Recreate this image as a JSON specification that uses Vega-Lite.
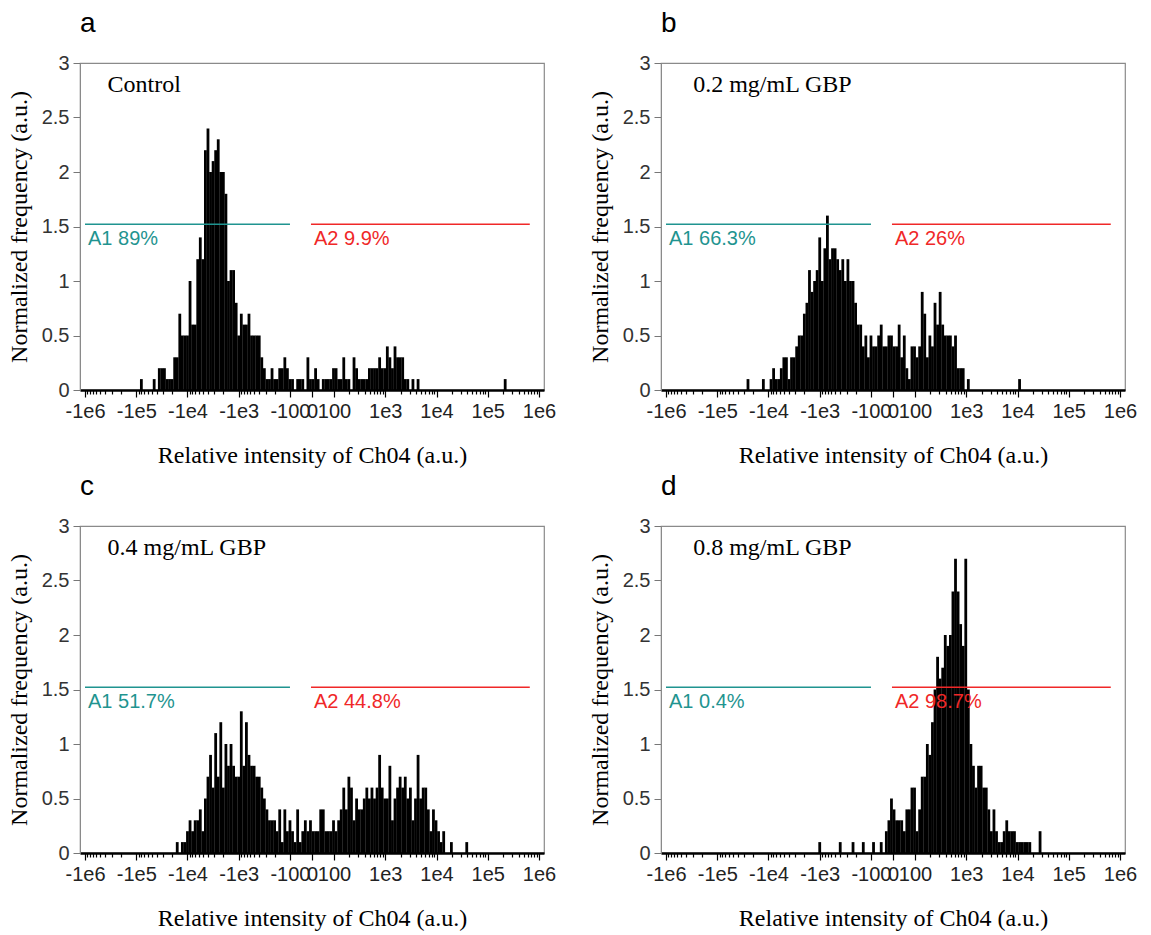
{
"$schema": "https://vega.github.io/schema/vega-lite/v6.json",
"padding": {"left": 6, "top": 9, "right": 5, "bottom": 5},
"config": {
  "view": {"stroke": "#8a8a8a", "strokeWidth": 1.2},
  "axis": {"grid": false, "labelFont": "Liberation Sans", "labelFontSize": 20, "labelColor": "#222", "titleFont": "Liberation Serif", "titleFontSize": 24, "titleFontWeight": "normal", "titleColor": "black"},
  "axisX": {"labelOverlap": false},
  "header": {"labelFont": "Liberation Sans", "labelFontSize": 28, "labelColor": "black"}
},
"data": {"values": [
{"p":"a","k":"h","x":1.10,"y":0.1},{"p":"a","k":"h","x":1.35,"y":0.1},{"p":"a","k":"h","x":1.45,"y":0.2},{"p":"a","k":"h","x":1.50,"y":0.2},{"p":"a","k":"h","x":1.55,"y":0.2},{"p":"a","k":"h","x":1.60,"y":0.1},{"p":"a","k":"h","x":1.65,"y":0.1},{"p":"a","k":"h","x":1.70,"y":0.1},{"p":"a","k":"h","x":1.75,"y":0.3},{"p":"a","k":"h","x":1.80,"y":0.3},
{"p":"a","k":"h","x":1.85,"y":0.7},{"p":"a","k":"h","x":1.90,"y":0.5},{"p":"a","k":"h","x":1.95,"y":0.5},{"p":"a","k":"h","x":2.00,"y":0.5},{"p":"a","k":"h","x":2.05,"y":1.0},{"p":"a","k":"h","x":2.10,"y":0.6},{"p":"a","k":"h","x":2.15,"y":0.6},{"p":"a","k":"h","x":2.20,"y":1.2},{"p":"a","k":"h","x":2.25,"y":1.4},{"p":"a","k":"h","x":2.30,"y":1.2},
{"p":"a","k":"h","x":2.35,"y":2.2},{"p":"a","k":"h","x":2.40,"y":2.4},{"p":"a","k":"h","x":2.45,"y":2.0},{"p":"a","k":"h","x":2.50,"y":2.1},{"p":"a","k":"h","x":2.55,"y":2.2},{"p":"a","k":"h","x":2.60,"y":2.3},{"p":"a","k":"h","x":2.65,"y":2.0},{"p":"a","k":"h","x":2.70,"y":2.0},{"p":"a","k":"h","x":2.75,"y":1.8},{"p":"a","k":"h","x":2.80,"y":1.0},
{"p":"a","k":"h","x":2.85,"y":1.1},{"p":"a","k":"h","x":2.90,"y":1.1},{"p":"a","k":"h","x":2.95,"y":0.8},{"p":"a","k":"h","x":3.00,"y":0.5},{"p":"a","k":"h","x":3.05,"y":0.7},{"p":"a","k":"h","x":3.10,"y":0.6},{"p":"a","k":"h","x":3.15,"y":0.6},{"p":"a","k":"h","x":3.20,"y":0.7},{"p":"a","k":"h","x":3.25,"y":0.5},{"p":"a","k":"h","x":3.30,"y":0.5},
{"p":"a","k":"h","x":3.35,"y":0.5},{"p":"a","k":"h","x":3.40,"y":0.5},{"p":"a","k":"h","x":3.45,"y":0.3},{"p":"a","k":"h","x":3.50,"y":0.2},{"p":"a","k":"h","x":3.55,"y":0.1},{"p":"a","k":"h","x":3.60,"y":0.1},{"p":"a","k":"h","x":3.65,"y":0.2},{"p":"a","k":"h","x":3.70,"y":0.1},{"p":"a","k":"h","x":3.75,"y":0.1},{"p":"a","k":"h","x":3.80,"y":0.2},
{"p":"a","k":"h","x":3.85,"y":0.2},{"p":"a","k":"h","x":3.90,"y":0.3},{"p":"a","k":"h","x":3.95,"y":0.2},{"p":"a","k":"h","x":4.00,"y":0.1},{"p":"a","k":"h","x":4.05,"y":0.1},{"p":"a","k":"h","x":4.15,"y":0.1},{"p":"a","k":"h","x":4.20,"y":0.1},{"p":"a","k":"h","x":4.25,"y":0.1},{"p":"a","k":"h","x":4.35,"y":0.3},{"p":"a","k":"h","x":4.40,"y":0.1},
{"p":"a","k":"h","x":4.45,"y":0.1},{"p":"a","k":"h","x":4.50,"y":0.2},{"p":"a","k":"h","x":4.55,"y":0.1},{"p":"a","k":"h","x":4.65,"y":0.1},{"p":"a","k":"h","x":4.70,"y":0.1},{"p":"a","k":"h","x":4.75,"y":0.1},{"p":"a","k":"h","x":4.80,"y":0.1},{"p":"a","k":"h","x":4.85,"y":0.2},{"p":"a","k":"h","x":4.90,"y":0.2},{"p":"a","k":"h","x":4.95,"y":0.1},
{"p":"a","k":"h","x":5.00,"y":0.1},{"p":"a","k":"h","x":5.05,"y":0.3},{"p":"a","k":"h","x":5.10,"y":0.1},{"p":"a","k":"h","x":5.15,"y":0.1},{"p":"a","k":"h","x":5.25,"y":0.3},{"p":"a","k":"h","x":5.30,"y":0.2},{"p":"a","k":"h","x":5.35,"y":0.1},{"p":"a","k":"h","x":5.40,"y":0.1},{"p":"a","k":"h","x":5.45,"y":0.1},{"p":"a","k":"h","x":5.50,"y":0.1},
{"p":"a","k":"h","x":5.55,"y":0.2},{"p":"a","k":"h","x":5.60,"y":0.2},{"p":"a","k":"h","x":5.65,"y":0.2},{"p":"a","k":"h","x":5.70,"y":0.2},{"p":"a","k":"h","x":5.75,"y":0.3},{"p":"a","k":"h","x":5.80,"y":0.2},{"p":"a","k":"h","x":5.85,"y":0.2},{"p":"a","k":"h","x":5.90,"y":0.4},{"p":"a","k":"h","x":5.95,"y":0.3},{"p":"a","k":"h","x":6.00,"y":0.2},
{"p":"a","k":"h","x":6.05,"y":0.4},{"p":"a","k":"h","x":6.10,"y":0.3},{"p":"a","k":"h","x":6.15,"y":0.3},{"p":"a","k":"h","x":6.20,"y":0.3},{"p":"a","k":"h","x":6.25,"y":0.1},{"p":"a","k":"h","x":6.30,"y":0.1},{"p":"a","k":"h","x":6.40,"y":0.1},{"p":"a","k":"h","x":6.50,"y":0.1},{"p":"a","k":"h","x":8.20,"y":0.1},

{"p":"b","k":"h","x":1.60,"y":0.1},{"p":"b","k":"h","x":1.90,"y":0.1},{"p":"b","k":"h","x":2.05,"y":0.1},{"p":"b","k":"h","x":2.10,"y":0.2},{"p":"b","k":"h","x":2.15,"y":0.1},{"p":"b","k":"h","x":2.20,"y":0.1},{"p":"b","k":"h","x":2.25,"y":0.2},{"p":"b","k":"h","x":2.30,"y":0.3},{"p":"b","k":"h","x":2.35,"y":0.3},{"p":"b","k":"h","x":2.40,"y":0.1},
{"p":"b","k":"h","x":2.45,"y":0.3},{"p":"b","k":"h","x":2.50,"y":0.3},{"p":"b","k":"h","x":2.55,"y":0.4},{"p":"b","k":"h","x":2.60,"y":0.5},{"p":"b","k":"h","x":2.65,"y":0.5},{"p":"b","k":"h","x":2.70,"y":0.7},{"p":"b","k":"h","x":2.75,"y":0.8},{"p":"b","k":"h","x":2.80,"y":1.1},{"p":"b","k":"h","x":2.85,"y":0.9},{"p":"b","k":"h","x":2.90,"y":1.0},
{"p":"b","k":"h","x":2.95,"y":1.1},{"p":"b","k":"h","x":3.00,"y":1.4},{"p":"b","k":"h","x":3.05,"y":1.0},{"p":"b","k":"h","x":3.10,"y":1.3},{"p":"b","k":"h","x":3.15,"y":1.6},{"p":"b","k":"h","x":3.20,"y":1.2},{"p":"b","k":"h","x":3.25,"y":1.3},{"p":"b","k":"h","x":3.30,"y":1.3},{"p":"b","k":"h","x":3.35,"y":1.2},{"p":"b","k":"h","x":3.40,"y":1.1},
{"p":"b","k":"h","x":3.45,"y":1.2},{"p":"b","k":"h","x":3.50,"y":1.0},{"p":"b","k":"h","x":3.55,"y":1.2},{"p":"b","k":"h","x":3.60,"y":1.0},{"p":"b","k":"h","x":3.65,"y":1.0},{"p":"b","k":"h","x":3.70,"y":0.8},{"p":"b","k":"h","x":3.75,"y":0.6},{"p":"b","k":"h","x":3.80,"y":0.6},{"p":"b","k":"h","x":3.85,"y":0.4},{"p":"b","k":"h","x":3.90,"y":0.5},
{"p":"b","k":"h","x":3.95,"y":0.3},{"p":"b","k":"h","x":4.00,"y":0.5},{"p":"b","k":"h","x":4.05,"y":0.4},{"p":"b","k":"h","x":4.10,"y":0.4},{"p":"b","k":"h","x":4.15,"y":0.5},{"p":"b","k":"h","x":4.20,"y":0.6},{"p":"b","k":"h","x":4.25,"y":0.4},{"p":"b","k":"h","x":4.30,"y":0.4},{"p":"b","k":"h","x":4.35,"y":0.5},{"p":"b","k":"h","x":4.40,"y":0.5},
{"p":"b","k":"h","x":4.45,"y":0.4},{"p":"b","k":"h","x":4.50,"y":0.4},{"p":"b","k":"h","x":4.55,"y":0.6},{"p":"b","k":"h","x":4.60,"y":0.3},{"p":"b","k":"h","x":4.65,"y":0.5},{"p":"b","k":"h","x":4.70,"y":0.2},{"p":"b","k":"h","x":4.75,"y":0.1},{"p":"b","k":"h","x":4.80,"y":0.4},{"p":"b","k":"h","x":4.85,"y":0.4},{"p":"b","k":"h","x":4.90,"y":0.3},
{"p":"b","k":"h","x":4.95,"y":0.4},{"p":"b","k":"h","x":5.00,"y":0.9},{"p":"b","k":"h","x":5.05,"y":0.7},{"p":"b","k":"h","x":5.10,"y":0.3},{"p":"b","k":"h","x":5.15,"y":0.5},{"p":"b","k":"h","x":5.20,"y":0.4},{"p":"b","k":"h","x":5.25,"y":0.8},{"p":"b","k":"h","x":5.30,"y":0.6},{"p":"b","k":"h","x":5.35,"y":0.9},{"p":"b","k":"h","x":5.40,"y":0.6},
{"p":"b","k":"h","x":5.45,"y":0.5},{"p":"b","k":"h","x":5.50,"y":0.5},{"p":"b","k":"h","x":5.55,"y":0.5},{"p":"b","k":"h","x":5.60,"y":0.4},{"p":"b","k":"h","x":5.65,"y":0.5},{"p":"b","k":"h","x":5.70,"y":0.2},{"p":"b","k":"h","x":5.75,"y":0.2},{"p":"b","k":"h","x":5.80,"y":0.2},{"p":"b","k":"h","x":5.90,"y":0.1},{"p":"b","k":"h","x":6.90,"y":0.1},

{"p":"c","k":"h","x":1.80,"y":0.1},{"p":"c","k":"h","x":1.90,"y":0.1},{"p":"c","k":"h","x":1.95,"y":0.1},{"p":"c","k":"h","x":2.00,"y":0.2},{"p":"c","k":"h","x":2.05,"y":0.3},{"p":"c","k":"h","x":2.10,"y":0.2},{"p":"c","k":"h","x":2.15,"y":0.3},{"p":"c","k":"h","x":2.20,"y":0.3},{"p":"c","k":"h","x":2.25,"y":0.4},{"p":"c","k":"h","x":2.30,"y":0.2},
{"p":"c","k":"h","x":2.35,"y":0.5},{"p":"c","k":"h","x":2.40,"y":0.7},{"p":"c","k":"h","x":2.45,"y":0.9},{"p":"c","k":"h","x":2.50,"y":0.6},{"p":"c","k":"h","x":2.55,"y":1.1},{"p":"c","k":"h","x":2.60,"y":0.7},{"p":"c","k":"h","x":2.65,"y":1.2},{"p":"c","k":"h","x":2.70,"y":0.6},{"p":"c","k":"h","x":2.75,"y":1.0},{"p":"c","k":"h","x":2.80,"y":0.8},
{"p":"c","k":"h","x":2.85,"y":1.0},{"p":"c","k":"h","x":2.90,"y":0.8},{"p":"c","k":"h","x":2.95,"y":0.7},{"p":"c","k":"h","x":3.00,"y":0.7},{"p":"c","k":"h","x":3.05,"y":1.3},{"p":"c","k":"h","x":3.10,"y":0.8},{"p":"c","k":"h","x":3.15,"y":1.2},{"p":"c","k":"h","x":3.20,"y":0.9},{"p":"c","k":"h","x":3.25,"y":0.8},{"p":"c","k":"h","x":3.30,"y":0.8},
{"p":"c","k":"h","x":3.35,"y":0.7},{"p":"c","k":"h","x":3.40,"y":0.7},{"p":"c","k":"h","x":3.45,"y":0.6},{"p":"c","k":"h","x":3.50,"y":0.5},{"p":"c","k":"h","x":3.55,"y":0.4},{"p":"c","k":"h","x":3.60,"y":0.3},{"p":"c","k":"h","x":3.65,"y":0.3},{"p":"c","k":"h","x":3.70,"y":0.3},{"p":"c","k":"h","x":3.75,"y":0.2},{"p":"c","k":"h","x":3.80,"y":0.4},
{"p":"c","k":"h","x":3.85,"y":0.1},{"p":"c","k":"h","x":3.90,"y":0.4},{"p":"c","k":"h","x":3.95,"y":0.2},{"p":"c","k":"h","x":4.00,"y":0.3},{"p":"c","k":"h","x":4.05,"y":0.2},{"p":"c","k":"h","x":4.10,"y":0.1},{"p":"c","k":"h","x":4.15,"y":0.4},{"p":"c","k":"h","x":4.20,"y":0.1},{"p":"c","k":"h","x":4.25,"y":0.2},{"p":"c","k":"h","x":4.30,"y":0.3},
{"p":"c","k":"h","x":4.35,"y":0.2},{"p":"c","k":"h","x":4.40,"y":0.3},{"p":"c","k":"h","x":4.45,"y":0.2},{"p":"c","k":"h","x":4.50,"y":0.2},{"p":"c","k":"h","x":4.55,"y":0.2},{"p":"c","k":"h","x":4.60,"y":0.4},{"p":"c","k":"h","x":4.65,"y":0.4},{"p":"c","k":"h","x":4.70,"y":0.2},{"p":"c","k":"h","x":4.75,"y":0.2},{"p":"c","k":"h","x":4.80,"y":0.2},
{"p":"c","k":"h","x":4.85,"y":0.3},{"p":"c","k":"h","x":4.90,"y":0.2},{"p":"c","k":"h","x":4.95,"y":0.3},{"p":"c","k":"h","x":5.00,"y":0.4},{"p":"c","k":"h","x":5.05,"y":0.6},{"p":"c","k":"h","x":5.10,"y":0.4},{"p":"c","k":"h","x":5.15,"y":0.7},{"p":"c","k":"h","x":5.20,"y":0.6},{"p":"c","k":"h","x":5.25,"y":0.3},{"p":"c","k":"h","x":5.30,"y":0.5},
{"p":"c","k":"h","x":5.35,"y":0.4},{"p":"c","k":"h","x":5.40,"y":0.4},{"p":"c","k":"h","x":5.45,"y":0.5},{"p":"c","k":"h","x":5.50,"y":0.6},{"p":"c","k":"h","x":5.55,"y":0.5},{"p":"c","k":"h","x":5.60,"y":0.6},{"p":"c","k":"h","x":5.65,"y":0.5},{"p":"c","k":"h","x":5.70,"y":0.6},{"p":"c","k":"h","x":5.75,"y":0.9},{"p":"c","k":"h","x":5.80,"y":0.6},
{"p":"c","k":"h","x":5.85,"y":0.5},{"p":"c","k":"h","x":5.90,"y":0.5},{"p":"c","k":"h","x":5.95,"y":0.8},{"p":"c","k":"h","x":6.00,"y":0.3},{"p":"c","k":"h","x":6.05,"y":0.5},{"p":"c","k":"h","x":6.10,"y":0.6},{"p":"c","k":"h","x":6.15,"y":0.7},{"p":"c","k":"h","x":6.20,"y":0.6},{"p":"c","k":"h","x":6.25,"y":0.7},{"p":"c","k":"h","x":6.30,"y":0.5},
{"p":"c","k":"h","x":6.35,"y":0.6},{"p":"c","k":"h","x":6.40,"y":0.3},{"p":"c","k":"h","x":6.45,"y":0.5},{"p":"c","k":"h","x":6.50,"y":0.9},{"p":"c","k":"h","x":6.55,"y":0.5},{"p":"c","k":"h","x":6.60,"y":0.6},{"p":"c","k":"h","x":6.65,"y":0.6},{"p":"c","k":"h","x":6.70,"y":0.4},{"p":"c","k":"h","x":6.75,"y":0.2},{"p":"c","k":"h","x":6.80,"y":0.4},
{"p":"c","k":"h","x":6.85,"y":0.3},{"p":"c","k":"h","x":6.90,"y":0.2},{"p":"c","k":"h","x":6.95,"y":0.1},{"p":"c","k":"h","x":7.00,"y":0.2},{"p":"c","k":"h","x":7.15,"y":0.1},{"p":"c","k":"h","x":7.45,"y":0.1},

{"p":"d","k":"h","x":3.00,"y":0.1},{"p":"d","k":"h","x":3.40,"y":0.1},{"p":"d","k":"h","x":3.65,"y":0.1},{"p":"d","k":"h","x":3.85,"y":0.1},{"p":"d","k":"h","x":4.05,"y":0.1},{"p":"d","k":"h","x":4.20,"y":0.1},{"p":"d","k":"h","x":4.30,"y":0.2},{"p":"d","k":"h","x":4.35,"y":0.3},{"p":"d","k":"h","x":4.40,"y":0.5},{"p":"d","k":"h","x":4.45,"y":0.4},
{"p":"d","k":"h","x":4.50,"y":0.3},{"p":"d","k":"h","x":4.55,"y":0.3},{"p":"d","k":"h","x":4.60,"y":0.3},{"p":"d","k":"h","x":4.65,"y":0.2},{"p":"d","k":"h","x":4.70,"y":0.4},{"p":"d","k":"h","x":4.75,"y":0.4},{"p":"d","k":"h","x":4.80,"y":0.6},{"p":"d","k":"h","x":4.85,"y":0.6},{"p":"d","k":"h","x":4.90,"y":0.2},{"p":"d","k":"h","x":4.95,"y":0.4},
{"p":"d","k":"h","x":5.00,"y":0.7},{"p":"d","k":"h","x":5.05,"y":0.7},{"p":"d","k":"h","x":5.10,"y":1.0},{"p":"d","k":"h","x":5.15,"y":0.9},{"p":"d","k":"h","x":5.20,"y":1.2},{"p":"d","k":"h","x":5.25,"y":1.5},{"p":"d","k":"h","x":5.30,"y":1.8},{"p":"d","k":"h","x":5.35,"y":1.6},{"p":"d","k":"h","x":5.40,"y":1.7},{"p":"d","k":"h","x":5.45,"y":2.0},
{"p":"d","k":"h","x":5.50,"y":1.9},{"p":"d","k":"h","x":5.55,"y":2.0},{"p":"d","k":"h","x":5.60,"y":2.4},{"p":"d","k":"h","x":5.65,"y":2.7},{"p":"d","k":"h","x":5.70,"y":2.4},{"p":"d","k":"h","x":5.75,"y":2.1},{"p":"d","k":"h","x":5.80,"y":1.9},{"p":"d","k":"h","x":5.85,"y":2.7},{"p":"d","k":"h","x":5.90,"y":1.5},{"p":"d","k":"h","x":5.95,"y":1.0},
{"p":"d","k":"h","x":6.00,"y":0.8},{"p":"d","k":"h","x":6.05,"y":0.6},{"p":"d","k":"h","x":6.10,"y":0.8},{"p":"d","k":"h","x":6.15,"y":0.8},{"p":"d","k":"h","x":6.20,"y":0.6},{"p":"d","k":"h","x":6.25,"y":0.6},{"p":"d","k":"h","x":6.30,"y":0.4},{"p":"d","k":"h","x":6.35,"y":0.2},{"p":"d","k":"h","x":6.40,"y":0.4},{"p":"d","k":"h","x":6.45,"y":0.2},
{"p":"d","k":"h","x":6.50,"y":0.1},{"p":"d","k":"h","x":6.55,"y":0.1},{"p":"d","k":"h","x":6.60,"y":0.2},{"p":"d","k":"h","x":6.65,"y":0.3},{"p":"d","k":"h","x":6.70,"y":0.2},{"p":"d","k":"h","x":6.75,"y":0.2},{"p":"d","k":"h","x":6.80,"y":0.2},{"p":"d","k":"h","x":6.85,"y":0.1},{"p":"d","k":"h","x":6.90,"y":0.1},{"p":"d","k":"h","x":6.95,"y":0.1},
{"p":"d","k":"h","x":7.00,"y":0.1},{"p":"d","k":"h","x":7.05,"y":0.1},{"p":"d","k":"h","x":7.10,"y":0.1},{"p":"d","k":"h","x":7.30,"y":0.2},

{"p":"a","k":"g","g":"A1","x":0,"x2":4.0,"y":1.52,"t":"A1 89%"},
{"p":"a","k":"g","g":"A2","x":4.41,"x2":8.68,"y":1.52,"t":"A2 9.9%"},
{"p":"b","k":"g","g":"A1","x":0,"x2":4.0,"y":1.52,"t":"A1 66.3%"},
{"p":"b","k":"g","g":"A2","x":4.41,"x2":8.68,"y":1.52,"t":"A2 26%"},
{"p":"c","k":"g","g":"A1","x":0,"x2":4.0,"y":1.52,"t":"A1 51.7%"},
{"p":"c","k":"g","g":"A2","x":4.41,"x2":8.68,"y":1.52,"t":"A2 44.8%"},
{"p":"d","k":"g","g":"A1","x":0,"x2":4.0,"y":1.52,"t":"A1 0.4%"},
{"p":"d","k":"g","g":"A2","x":4.41,"x2":8.68,"y":1.52,"t":"A2 98.7%"},

{"p":"a","k":"n","x":0.44,"y":2.8,"t":"Control"},
{"p":"b","k":"n","x":0.53,"y":2.8,"t":"0.2 mg/mL GBP"},
{"p":"c","k":"n","x":0.44,"y":2.8,"t":"0.4 mg/mL GBP"},
{"p":"d","k":"n","x":0.53,"y":2.8,"t":"0.8 mg/mL GBP"}
]},
"facet": {"field": "p", "type": "nominal", "header": {"title": null, "labelAnchor": "start", "labelAngle": 0, "labelPadding": -13, "labelOrient": "top"}},
"columns": 2,
"spacing": {"column": 30, "row": 4},
"resolve": {"axis": {"x": "independent", "y": "independent"}},
"spec": {
  "width": 464,
  "height": 327,
  "layer": [
    {
      "transform": [{"filter": "datum.k == 'h'"}],
      "mark": {"type": "bar", "color": "black", "width": 2.8},
      "encoding": {
        "x": {"field": "x", "type": "quantitative",
              "scale": {"domain": [0, 8.86], "nice": false, "zero": false},
              "axis": {"title": "Relative intensity of Ch04 (a.u.)",
                       "tickCount": 500,
                       "values": [0,0.046,0.097,0.155,0.222,0.301,0.398,0.523,0.699,1,1.046,1.097,1.155,1.222,1.301,1.398,1.523,1.699,2,2.046,2.097,2.155,2.222,2.301,2.398,2.523,2.699,3,3.046,3.097,3.155,3.222,3.301,3.398,3.523,3.699,4,4.43,4.86,5.161,5.337,5.462,5.559,5.638,5.705,5.763,5.814,5.86,6.161,6.337,6.462,6.559,6.638,6.705,6.763,6.814,6.86,7.161,7.337,7.462,7.559,7.638,7.705,7.763,7.814,7.86,8.161,8.337,8.462,8.559,8.638,8.705,8.763,8.814,8.86],
                       "labelExpr": "datum.value == 0 ? '-1e6' : datum.value == 1 ? '-1e5' : datum.value == 2 ? '-1e4' : datum.value == 3 ? '-1e3' : datum.value == 4 ? '-100' : datum.value == 4.43 ? '0' : datum.value == 4.86 ? '100' : datum.value == 5.86 ? '1e3' : datum.value == 6.86 ? '1e4' : datum.value == 7.86 ? '1e5' : datum.value == 8.86 ? '1e6' : ''",
                       "labelOverlap": false, "labelFlush": false, "labelBound": false,
                       "tickColor": "black", "tickWidth": 1.2,
                       "tickSize": {"condition": {"test": "datum.value == 0 || datum.value == 1 || datum.value == 2 || datum.value == 3 || datum.value == 4 || datum.value == 4.43 || datum.value == 4.86 || datum.value == 5.86 || datum.value == 6.86 || datum.value == 7.86 || datum.value == 8.86", "value": 7}, "value": 4},
                       "domainColor": "black", "domainWidth": 2.5,
                       "labelPadding": 4, "titlePadding": 22}},
        "y": {"field": "y", "type": "quantitative",
              "scale": {"domain": [0, 3], "nice": false},
              "axis": {"title": "Normalized frequency (a.u.)", "values": [0,0.5,1,1.5,2,2.5,3], "format": "~g",
                       "tickColor": "#777", "tickSize": 7, "domainColor": "#8a8a8a", "labelPadding": 4, "titlePadding": 10, "labelColor": "#333"}}
      }
    },
    {
      "transform": [{"filter": "datum.k == 'g'"}],
      "mark": {"type": "rule", "strokeWidth": 1.6},
      "encoding": {
        "x": {"field": "x", "type": "quantitative"},
        "x2": {"field": "x2"},
        "y": {"field": "y", "type": "quantitative"},
        "color": {"field": "g", "type": "nominal", "scale": {"domain": ["A1", "A2"], "range": ["#1f9490", "#f02828"]}, "legend": null}
      }
    },
    {
      "transform": [{"filter": "datum.k == 'g'"}],
      "mark": {"type": "text", "align": "left", "baseline": "top", "dx": 3, "dy": 5, "font": "Liberation Sans", "fontSize": 20},
      "encoding": {
        "x": {"field": "x", "type": "quantitative"},
        "y": {"field": "y", "type": "quantitative"},
        "text": {"field": "t"},
        "color": {"field": "g", "type": "nominal", "scale": {"domain": ["A1", "A2"], "range": ["#1f9490", "#f02828"]}, "legend": null}
      }
    },
    {
      "transform": [{"filter": "datum.k == 'n'"}],
      "mark": {"type": "text", "align": "left", "baseline": "middle", "font": "Liberation Serif", "fontSize": 24, "color": "black"},
      "encoding": {
        "x": {"field": "x", "type": "quantitative"},
        "y": {"field": "y", "type": "quantitative"},
        "text": {"field": "t"}
      }
    }
  ]
}
}
